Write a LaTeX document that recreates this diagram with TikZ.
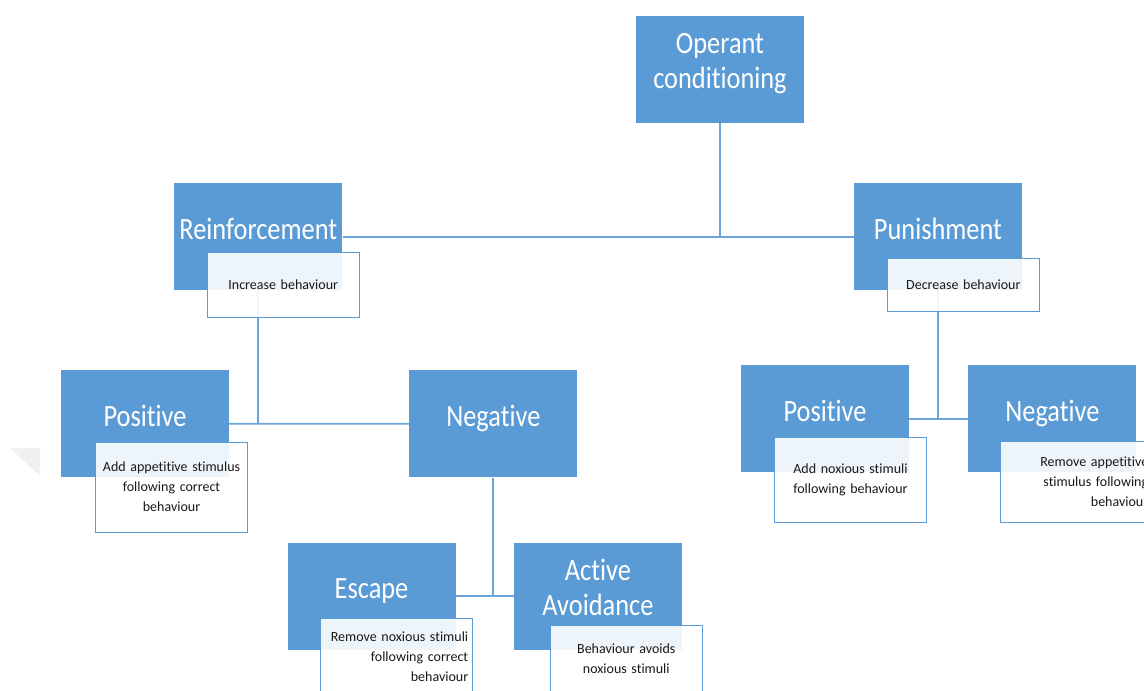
\documentclass[tikz,border=0pt]{standalone}
\usepackage{fontspec}
\setmainfont{Carlito}[Ligatures=NoCommon]
\newfontfamily\titlefont{Carlito}[FakeStretch=0.85,Ligatures=NoCommon]
\usepackage{tikz}
\usetikzlibrary{positioning}
\definecolor{smartblue}{HTML}{5B9BD5}

\begin{document}
\begin{tikzpicture}[x=1pt,y=-1pt,node distance=58pt,
conceptbox/.style={fill=smartblue,minimum width=168pt,minimum height=107pt,inner sep=0pt},
titletext/.style={text=white,font=\titlefont\fontsize{31}{35}\selectfont,align=center,inner sep=0pt},
notebox/.style={draw=smartblue,line width=0.9pt,fill=white,fill opacity=0.9,text opacity=1,text=black!90,font=\fontsize{14}{20}\selectfont,text width=143pt,inner xsep=4.5pt,inner ysep=0pt,align=center},
link/.style={draw=smartblue!90,line width=1.8pt}]
\useasboundingbox (0,0) rectangle (1144,691);
\clip (0,0) rectangle (1144,691);
\fill[black!6] (10,448) -- (40,448) -- (40,476) -- cycle;
\node[conceptbox] (operant) at (720,69.2) {};
\node[conceptbox] (reinf) at (258.3,236.7) {};
\node[conceptbox] (punish) at (938,236.7) {};
\node[conceptbox] (reinfpos) at (145,423.7) {};
\node[conceptbox] (reinfneg) at (493.3,423.8) {};
\node[conceptbox] (escape) at (371.5,596) {};
\node[conceptbox,right=of escape] (avoid) {};
\node[conceptbox] (punpos) at (825,418.8) {};
\node[conceptbox,right=59pt of punpos] (punneg) {};
\node[titletext] (operanttitle) at ([yshift=5.9pt]operant.center) {Operant\\conditioning};
\node[titletext,anchor=base] (reinftitle) at ([yshift=-2.7pt]reinf.center) {Reinforcement};
\node[titletext,anchor=base] (punishtitle) at ([yshift=-2.7pt]punish.center) {Punishment};
\node[titletext,anchor=base] (reinfpostitle) at ([yshift=-2.7pt]reinfpos.center) {Positive};
\node[titletext,anchor=base] (reinfnegtitle) at ([yshift=-2.7pt]reinfneg.center) {Negative};
\node[titletext,anchor=base] (escapetitle) at ([yshift=-2.7pt]escape.center) {Escape};
\node[titletext] (avoidtitle) at ([yshift=8.7pt]avoid.center) {Active\\Avoidance};
\node[titletext,anchor=base] (punpostitle) at ([yshift=-2.7pt]punpos.center) {Positive};
\node[titletext,anchor=base] (punnegtitle) at ([yshift=-2.7pt]punneg.center) {Negative};
\draw[link] (operant.south) -- (operant.south |- reinf.east);
\draw[link] (reinf.east) -- (punish.west);
\draw[link] (reinf.south) -- (reinf.south |- reinfpos.east);
\draw[link] (reinfpos.east) -- (reinfneg.west);
\draw[link] (reinfneg.south) -- (reinfneg.south |- escape.east);
\draw[link] (escape.east) -- (avoid.west);
\draw[link] (punish.south) -- (punish.south |- punpos.east);
\draw[link] (punpos.east) -- (punneg.west);
\node[notebox,minimum height=65pt] (reinfnote) at (283.2,284.8) {Increase behaviour};
\node[notebox,minimum height=53.4pt] (punishnote) at (963.3,285) {Decrease behaviour};
\node[notebox,minimum height=90pt] (reinfposnote) at (171.5,487) {Add appetitive stimulus\\following correct\\behaviour};
\node[notebox,minimum height=78pt,align=right] (escapenote) at (396.7,657) {Remove noxious stimuli\\following correct\\behaviour};
\node[notebox,minimum height=67pt] (avoidnote) at (626.3,658.5) {Behaviour avoids\\noxious stimuli};
\node[notebox,minimum height=85.4pt] (punposnote) at (850.5,480) {Add noxious stimuli\\following behaviour};
\node[notebox,minimum height=81pt,align=right] (punnegnote) at (1076.7,482.2) {Remove appetitive\\stimulus following\\behaviour};
\end{tikzpicture}
\end{document}
